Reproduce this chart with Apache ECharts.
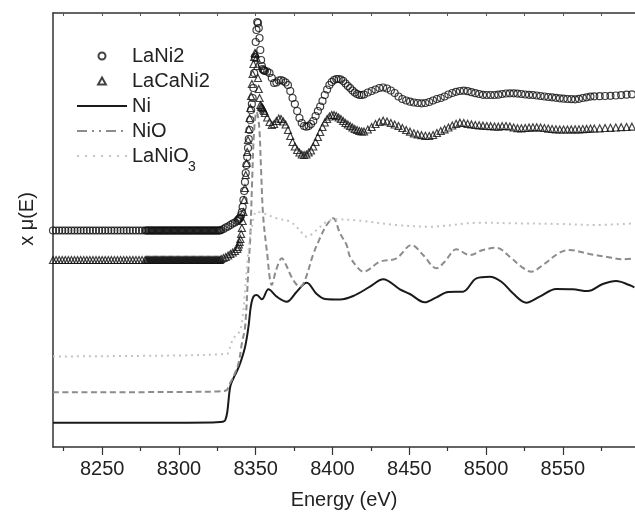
<!DOCTYPE html>
<html>
<head>
<meta charset="utf-8">
<script src="https://cdn.jsdelivr.net/npm/echarts@6/dist/echarts.min.js"></script>
<style>
  html, body { margin: 0; padding: 0; background: #fff; }
  #container { width: 635px; height: 516px; }
</style>
</head>
<body>
<div id="container"></div>
<script>
// energy grid of the two sample scans (eV)
var energy = [
  8218, 8220, 8222, 8224, 8226, 8228, 8230, 8232, 8234, 8236, 8238, 8240, 8242, 8244, 8246,
  8248, 8250, 8252, 8254, 8256, 8258, 8260, 8262, 8264, 8266, 8268, 8270, 8272, 8274, 8276,
  8278, 8278.75, 8279.5, 8280.25, 8281, 8281.75, 8282.5, 8283.25, 8284, 8284.75, 8285.5,
  8286.25, 8287, 8287.75, 8288.5, 8289.25, 8290, 8290.75, 8291.5, 8292.25, 8293, 8293.75,
  8294.5, 8295.25, 8296, 8296.75, 8297.5, 8298.25, 8299, 8299.75, 8300.5, 8301.25, 8302,
  8302.75, 8303.5, 8304.25, 8305, 8305.75, 8306.5, 8307.25, 8308, 8308.75, 8309.5, 8310.25,
  8311, 8311.75, 8312.5, 8313.25, 8314, 8314.75, 8315.5, 8316.25, 8317, 8317.75, 8318.5,
  8319.25, 8320, 8320.75, 8321.5, 8322.25, 8323, 8323.75, 8324.5, 8325.25, 8326, 8326.75,
  8327.5, 8329, 8330.5, 8332, 8333.5, 8335, 8336.5, 8338,
  8338.5, 8339, 8339.5, 8340, 8340.5, 8341, 8341.5, 8342, 8342.5, 8343, 8343.5, 8344, 8344.5,
  8345, 8345.5, 8346, 8346.5, 8347, 8347.5, 8348, 8348.5, 8349, 8349.5, 8350, 8350.5, 8351,
  8351.5, 8352, 8352.5, 8353, 8353.5, 8354, 8354.5, 8355, 8355.5, 8356,
  8357.5, 8359, 8360.5, 8362, 8363.5, 8365, 8366.5, 8368, 8369.5, 8371, 8372.5, 8374, 8375.5,
  8377, 8378.5, 8380, 8381.5, 8383, 8384.5, 8386, 8387.5, 8389, 8390.5, 8392, 8393.5, 8395,
  8396.5, 8398, 8399.5, 8401, 8402.5, 8404, 8405.5, 8407, 8408.5, 8410, 8411.5, 8413, 8414.5,
  8416, 8417.5, 8419, 8420.5,
  8423, 8425.5, 8428, 8430.5, 8433, 8435.5, 8438, 8440.5, 8443, 8445.5, 8448, 8450.5, 8453,
  8455.5, 8458, 8460.5, 8463, 8465.5, 8468, 8470.5, 8473, 8475.5, 8478, 8480.5, 8483, 8485.5,
  8488, 8490.5, 8493, 8495.5, 8498, 8500.5, 8503, 8505.5, 8508, 8510.5, 8513, 8515.5, 8518,
  8520.5, 8523, 8525.5, 8528, 8530.5, 8533, 8535.5, 8538, 8540.5, 8543, 8545.5, 8548, 8550.5,
  8553, 8555.5, 8558, 8560.5, 8563, 8565.5, 8568, 8570.5,
  8574, 8577.5, 8581, 8584.5, 8588, 8591.5, 8595
];

var laNi2 = [
  216.5, 216.5, 216.5, 216.5, 216.5, 216.5, 216.5, 216.5, 216.5, 216.5, 216.5, 216.5,
  216.5, 216.5, 216.5, 216.5, 216.5, 216.5, 216.5, 216.5, 216.5, 216.5, 216.5, 216.5,
  216.5, 216.5, 216.5, 216.5, 216.5, 216.5, 216.5, 216.5, 216.5, 216.5, 216.5, 216.5,
  216.5, 216.5, 216.5, 216.5, 216.5, 216.5, 216.5, 216.5, 216.5, 216.5, 216.5, 216.5,
  216.5, 216.5, 216.5, 216.5, 216.5, 216.5, 216.5, 216.5, 216.5, 216.5, 216.5, 216.5,
  216.5, 216.5, 216.5, 216.5, 216.5, 216.5, 216.5, 216.5, 216.5, 216.5, 216.5, 216.5,
  216.5, 216.5, 216.5, 216.5, 216.5, 216.5, 216.5, 216.5, 216.5, 216.5, 216.5, 216.5,
  216.5, 216.5, 216.5, 216.5, 216.5, 216.5, 216.5, 216.5, 216.5, 216.5, 216.5, 216.5,
  217, 218, 219.5, 220.5, 222, 223.5, 224.5, 226,
  227, 228, 228.5, 229.5, 232, 235, 240, 247, 256, 265, 274, 282, 290,
  299, 308, 317, 327, 337, 343, 349, 359, 374, 390, 405, 417, 425,
  424, 419, 409, 397, 387, 381, 378, 377, 376.5, 376,
  375.5, 374, 369, 364, 364.5, 366.5, 367, 366, 364.5, 362, 356, 349, 343,
  336, 329, 324, 321, 320.3, 321, 323, 326, 331, 336, 340.5, 346,
  352, 357.5, 362, 365, 367, 368, 368, 367.5, 366, 363.5, 361, 359, 356.5,
  354.5, 353, 352, 352, 352.5,
  354.5, 356, 357.5, 359, 359.5, 358.5, 356.5, 354, 350.5, 348, 346.5, 345.3, 344.5,
  344, 343.7, 344, 345, 346.5, 348, 349, 350.5, 352.5, 354, 355.2, 356, 356.3,
  355.8, 354.8, 353.8, 353, 352.2, 352, 352, 352, 352.3, 353, 353.5, 353.7, 353.7,
  353.4, 353, 352.5, 352.2, 352, 351.5, 351, 350.5, 350, 349.7, 349.2, 348.7, 348.3,
  348, 347.8, 347.7, 348.2, 349, 349.7, 350.4, 350.7,
  350.8, 351, 351.2, 351.5, 351.9, 352.3, 352.7
];

var laCaNi2 = [
  187, 187, 187, 187, 187, 187, 187, 187, 187, 187, 187, 187,
  187, 187, 187, 187, 187, 187, 187, 187, 187, 187, 187, 187,
  187, 187, 187, 187, 187, 187, 187, 187, 187, 187, 187, 187,
  187, 187, 187, 187, 187, 187, 187, 187, 187, 187, 187, 187,
  187, 187, 187, 187, 187, 187, 187, 187, 187, 187, 187, 187,
  187, 187, 187, 187, 187, 187, 187, 187, 187, 187, 187, 187,
  187, 187, 187, 187, 187, 187, 187, 187, 187, 187, 187, 187,
  187, 187, 187, 187, 187, 187, 187, 187, 187, 187, 187, 187,
  188, 189, 190, 191.5, 193, 194.5, 196, 198,
  200, 202.5, 205, 208, 213, 219, 226, 235, 247, 259, 272, 284, 295,
  307, 318, 329, 339, 351, 363, 373, 383, 390, 394, 393, 389, 381,
  369, 358, 349, 342, 340.5, 340, 339, 337.5, 336, 334,
  329.5, 325, 322, 323, 326, 328.5, 328, 325.5, 322.5, 317, 311, 305, 300.5,
  297, 294.5, 292.5, 292, 292.5, 294.5, 296.5, 300.5, 305, 310, 315, 320,
  324.5, 328, 330.5, 332, 332, 331, 329.5, 328, 326, 324, 322.5, 321, 319.5,
  318, 317, 316, 315.5, 315.5,
  317.5, 320, 323, 325, 326.3, 325.5, 324, 322.5, 321, 319, 317, 315.3, 313.7,
  312.7, 311.8, 311.2, 311, 312, 314, 316, 317.7, 319.5, 321.5, 323.2, 324.3, 324,
  323.2, 322.6, 322, 321.7, 321.3, 321, 320.8, 320.5, 320.3, 320.8, 321, 320.5, 319.5,
  318.8, 318.7, 319, 319.4, 319.7, 319.7, 319.5, 319, 318.4, 318, 317.7, 317.5, 317.5,
  317.5, 317.6, 317.7, 317.7, 317.9, 318.1, 318.4, 318.5,
  318.7, 319, 319.2, 319.5, 319.8, 320, 320.3
];

// reference spectra
var niE = [8218, 8290, 8322, 8327, 8329, 8330.2, 8331.5, 8333.4, 8335.5, 8337.5, 8339.9, 8343.1,
  8345.3, 8346.8, 8348.5, 8350.7, 8354, 8358.3, 8363.7, 8370.2, 8376.7, 8383.2, 8389.7, 8395.1,
  8404.9, 8413.5, 8424.4, 8433, 8443.9, 8450.4, 8460.1, 8467.7, 8475.3, 8485, 8493.7, 8502.4,
  8510, 8517.5, 8526.2, 8534.9, 8545.7, 8556.5, 8566.2, 8576, 8584.7, 8593.3, 8596.6];
var niMu = [24.3, 24.3, 24.6, 25, 25.5, 27, 35, 60.3, 68.7, 75, 83.7, 100.3,
  120.3, 140.3, 150.3, 152, 147.7, 157.7, 150.3, 145.3, 155.3, 164.3, 153, 148,
  147.5, 151, 160.3, 167.7, 157.7, 153, 144.7, 149.7, 155, 155.3, 168.7, 170.3,
  165.3, 153.7, 144.3, 150.3, 158, 157.7, 156, 163, 166, 162, 159.7];

var nioE = [8218, 8300, 8325, 8329, 8331.2, 8333.4, 8335.5, 8338.8, 8341, 8343.1, 8345.3, 8346.4,
  8347.7, 8349, 8350.6, 8352.2, 8353.5, 8354.8, 8357.2, 8360.5, 8363.3, 8367, 8369.8, 8373,
  8376.3, 8378.9, 8382.1, 8387.3, 8391.9, 8396.2, 8400.5, 8404.9, 8409.2, 8411.4, 8416.8, 8420,
  8430.9, 8441.7, 8451.5, 8459, 8467.7, 8473.1, 8480.7, 8489.4, 8498, 8506.7, 8515.4, 8523,
  8529.5, 8537, 8547.9, 8554.4, 8567.3, 8578.2, 8589, 8596.6];
var nioMu = [54.7, 55, 55.5, 56, 57, 64, 70.3, 83.7, 103.7, 120.3, 180.3, 207,
  267, 317, 335, 322, 277, 232, 197, 162, 177, 188.7, 182, 171,
  163, 160.3, 167, 192, 209, 222, 228.7, 213.7, 202, 190.3, 178.7, 175.3,
  185.3, 188.7, 202, 192, 178.7, 185.3, 197.7, 192, 197, 199.3, 190.3, 180.3,
  175.3, 182, 194.3, 197, 193, 190.3, 187.7, 188.7];

var laNiO3E = [8218, 8300, 8325, 8329, 8331.2, 8333.4, 8335.5, 8338.8, 8341, 8343.1, 8345.3,
  8347.5, 8350.7, 8355, 8363.7, 8372.4, 8378, 8383.2, 8389.7, 8396.2, 8402.7, 8417.9, 8441.7,
  8463.4, 8495.9, 8517.5, 8550, 8571.6, 8596.6];
var laNiO3Mu = [90.5, 91.5, 92.5, 93, 93, 100.3, 108.7, 113.7, 123.7, 157, 197,
  220.3, 235.3, 233.7, 228.7, 225.3, 218, 210.3, 217, 225.3, 227.7, 226.3, 222,
  220.3, 224.3, 223.7, 223, 222, 223.7];

var xTicks = [8250, 8300, 8350, 8400, 8450, 8500, 8550];
var topTicks = [8225, 8250, 8275, 8300, 8325, 8350, 8375, 8400, 8425, 8450, 8475, 8500, 8525, 8550, 8575];

function pairs(xs, ys) {
  return xs.map(function (x, i) { return [x, ys[i]]; });
}

var font = 'Liberation Sans, Arial, sans-serif';
var dom = document.getElementById("container");
var myChart = echarts.init(dom);

// no symbol dot on the line legend icons
var noDot = { color: 'rgba(0,0,0,0)', borderWidth: 0 };

var option = {
  animation: false,
  grid: { left: 53, right: 0, top: 13, bottom: 69 },
  legend: {
    orient: 'vertical',
    left: 76,
    top: 46,
    padding: 0,
    itemWidth: 50,
    itemHeight: 7,
    itemGap: 5,
    selectedMode: false,
    textStyle: { fontFamily: font, fontSize: 20, color: '#222', lineHeight: 20 },
    formatter: function (name) {
      return name === 'LaNiO3' ? 'LaNiO' : name;
    },
    data: [
      { name: 'LaNi2', icon: 'circle' },
      { name: 'LaCaNi2', icon: 'path://M5,0L10,9L0,9Z' },
      { name: 'Ni', itemStyle: noDot },
      { name: 'NiO', itemStyle: noDot, lineStyle: { type: [10, 5, 2, 5, 2, 5] } },
      { name: 'LaNiO3', itemStyle: noDot, lineStyle: { type: [2, 6] } }
    ]
  },
  // subscript of LaNiO3 in the legend
  graphic: [{
    type: 'text',
    left: 188,
    top: 160,
    style: { text: '3', fontFamily: font, fontSize: 14, fill: '#222' }
  }],
  xAxis: [
    {
      type: 'value',
      min: 8218,
      max: 8597,
      minInterval: 50,
      maxInterval: 50,
      splitNumber: 8,
      name: 'Energy (eV)',
      nameLocation: 'middle',
      nameGap: 43,
      nameTextStyle: { fontFamily: font, fontSize: 20, color: '#222' },
      axisLine: { onZero: false, lineStyle: { color: '#333', width: 1.5 } },
      axisTick: { customValues: xTicks, length: 8, lineStyle: { color: '#333', width: 1.2 } },
      minorTick: { show: true, splitNumber: 2, length: 4, lineStyle: { color: '#333', width: 1.2 } },
      axisLabel: {
        customValues: xTicks, margin: 12, fontFamily: font, fontSize: 20, color: '#222',
        formatter: function (v) { return String(v); }
      },
      splitLine: { show: false }
    },
    {
      type: 'value',
      position: 'top',
      min: 8218,
      max: 8597,
      axisLine: { onZero: false, lineStyle: { color: '#333', width: 1.5 } },
      axisTick: { customValues: topTicks, inside: true, length: 3, lineStyle: { color: '#555' } },
      axisLabel: { show: false },
      splitLine: { show: false }
    }
  ],
  yAxis: {
    type: 'value',
    min: 0,
    max: 434,
    name: 'x μ(E)',
    nameLocation: 'middle',
    nameGap: 16,
    nameTextStyle: { fontFamily: font, fontSize: 20, color: '#222', padding: [0, 0, 0, 22] },
    axisLine: { show: true, onZero: false, lineStyle: { color: '#333', width: 1.5 } },
    axisTick: { show: false },
    axisLabel: { show: false },
    splitLine: { show: false }
  },
  series: [
    {
      name: 'Ni', type: 'line', symbol: 'none', smooth: 0.35,
      lineStyle: { color: '#1a1a1a', width: 2 },
      itemStyle: { color: '#1a1a1a' },
      data: pairs(niE, niMu)
    },
    {
      name: 'NiO', type: 'line', symbol: 'none', smooth: 0.35,
      lineStyle: { color: '#8c8c8c', width: 2, type: [6, 3.5] },
      itemStyle: { color: '#8c8c8c' },
      data: pairs(nioE, nioMu)
    },
    {
      name: 'LaNiO3', type: 'line', symbol: 'none', smooth: 0.35,
      lineStyle: { color: '#c4c4c4', width: 2, type: [2, 4] },
      itemStyle: { color: '#c4c4c4' },
      data: pairs(laNiO3E, laNiO3Mu)
    },
    {
      name: 'LaNi2', type: 'scatter', symbol: 'circle', symbolSize: 7,
      itemStyle: { color: 'rgba(255,255,255,0)', borderColor: '#111', borderWidth: 1.2 },
      data: pairs(energy, laNi2)
    },
    {
      name: 'LaCaNi2', type: 'scatter', symbol: 'triangle', symbolSize: 7,
      itemStyle: { color: 'rgba(255,255,255,0)', borderColor: '#111', borderWidth: 1.2 },
      data: pairs(energy, laCaNi2)
    }
  ]
};

myChart.setOption(option);
</script>
</body>
</html>
